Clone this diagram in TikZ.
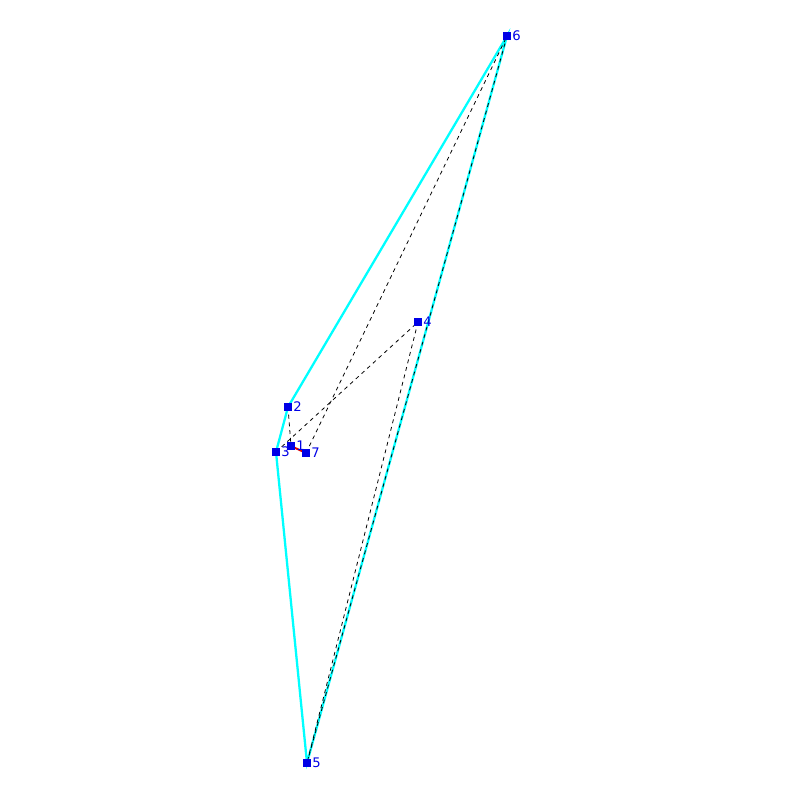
\documentclass[tikz,border=0pt]{standalone}
\usepackage{fontspec}
\setsansfont{DejaVu Sans}
\usetikzlibrary{backgrounds}
\definecolor{hullcyan}{RGB}{0,255,255}
\definecolor{ptblue}{RGB}{0,0,230}
\definecolor{segred}{RGB}{220,0,0}

\begin{document}
\begin{tikzpicture}[
  x=0.2mm, y=-0.2mm,
  font=\sffamily,
  pt/.style={draw=none, fill=ptblue, minimum size=1.6mm, inner sep=0pt,
             label={[font=\sffamily\fontsize{7.5}{8}\selectfont, text=ptblue,
                     inner sep=0.4pt]right:#1}},
  hull/.style={hullcyan, line width=1.3pt},
  tri/.style={black, line width=0.45pt, dash pattern=on 2.2pt off 2.2pt},
  seg/.style={segred, line width=1.1pt},
]
  \useasboundingbox (0,0) rectangle (800,800);

  % points
  \node[pt=1] (n1) at (291,446) {};
  \node[pt=2] (n2) at (288,407) {};
  \node[pt=3] (n3) at (276,452) {};
  \node[pt=4] (n4) at (418,322) {};
  \node[pt=5] (n5) at (307,763) {};
  \node[pt=6] (n6) at (507,36) {};
  \node[pt=7] (n7) at (306,453) {};

  \begin{scope}[on background layer]
    % convex hull
    \draw[hull] (n6.center) -- (n2.center) -- (n3.center) -- (n5.center) -- cycle;
    % inner edges
    \foreach \a/\b in {n2/n1, n3/n4, n7/n6, n4/n5, n5/n6}
      \draw[tri] (\a.center) -- (\b.center);
    \draw[seg] (n1.center) -- (n7.center);
  \end{scope}
\end{tikzpicture}
\end{document}
